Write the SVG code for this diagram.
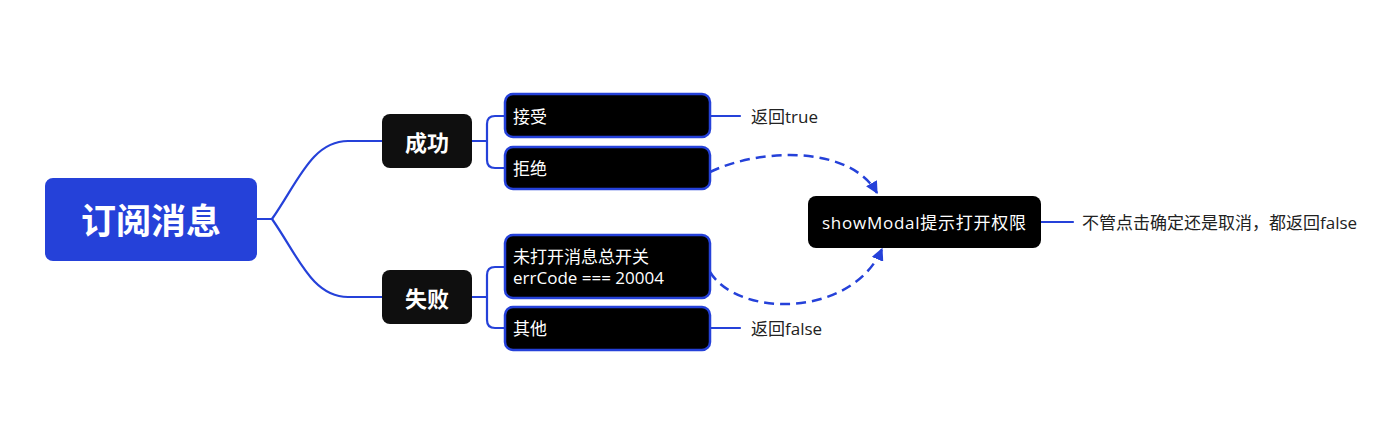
<svg xmlns="http://www.w3.org/2000/svg" width="1381" height="431" viewBox="0 0 1381 431">
<defs>
<style>
.conn{fill:none;stroke:#2541D9;stroke-width:2.2;stroke-linecap:round}
.dash{fill:none;stroke:#2541D9;stroke-width:2.5;stroke-dasharray:10 6}
.t{font-family:"Open Sans","Noto Sans CJK SC",sans-serif;}
.leaf rect{fill:#000;stroke:#2541D9;stroke-width:2.5}
.leaf text{fill:#fff;font-size:17px;dominant-baseline:central}
.mid rect{fill:#0f0f0f}
.mid text{fill:#fff;font-size:22px;font-weight:bold;text-anchor:middle;dominant-baseline:central}
.note{fill:#222;font-size:17px;dominant-baseline:central}
</style>
<marker id="arr" viewBox="0 0 10 10" refX="9" refY="5" markerWidth="5" markerHeight="5" orient="auto" markerUnits="strokeWidth">
<path d="M0,0 L10,5 L0,10 z" fill="#2541D9"/>
</marker>
</defs>
<rect width="1381" height="431" fill="#fff"/>
<g id="connectors">
<path class="conn" d="M257,219 H272 C298,182 312,141 348,141 H382"/>
<path class="conn" d="M272,219 C298,256 312,297 348,297 H382"/>
<path class="conn" d="M472,141 H487 M487,141 V124 Q487,116 495,116 H505 M487,141 V160 Q487,168 495,168 H505"/>
<path class="conn" d="M472,297 H487 M487,297 V275 Q487,267 495,267 H505 M487,297 V320 Q487,328 495,328 H505"/>
<path class="conn" d="M710,116 H740"/>
<path class="conn" d="M710,328 H740"/>
<path class="conn" d="M1041,222 H1073"/>
<path class="dash" d="M710,172 C760,148 850,145 877,193" marker-end="url(#arr)"/>
<path class="dash" d="M710,272 C738,318 852,318 882,249" marker-end="url(#arr)"/>
</g>
<g id="root">
<rect x="45" y="178" width="212" height="83" rx="8" fill="#2541D9"/>
<text class="t" x="151" y="220" fill="#fff" font-size="35" font-weight="bold" text-anchor="middle" dominant-baseline="central">订阅消息</text>
</g>
<g id="success" class="mid">
<rect x="382" y="114" width="90" height="54" rx="8"/>
<text class="t" x="427" y="142">成功</text>
</g>
<g id="fail" class="mid">
<rect x="382" y="270" width="90" height="54" rx="8"/>
<text class="t" x="427" y="298">失败</text>
</g>
<g id="accept" class="leaf">
<rect x="505" y="94" width="205" height="43" rx="8"/>
<text class="t" x="513" y="116">接受</text>
</g>
<g id="reject" class="leaf">
<rect x="505" y="147" width="205" height="42" rx="8"/>
<text class="t" x="513" y="168">拒绝</text>
</g>
<g id="notopen" class="leaf">
<rect x="505" y="235" width="205" height="63" rx="8"/>
<text class="t" x="513" y="256">未打开消息总开关</text>
<text class="t" x="513" y="277">errCode === 20004</text>
</g>
<g id="other" class="leaf">
<rect x="505" y="307" width="205" height="43" rx="8"/>
<text class="t" x="513" y="328">其他</text>
</g>
<g id="modal">
<rect x="808" y="196" width="233" height="52" rx="8" fill="#000"/>
<text class="t" x="924" y="222" fill="#fff" font-size="17" text-anchor="middle" dominant-baseline="central" textLength="204">showModal提示打开权限</text>
</g>
<g id="note-true">
<text class="t note" x="751" y="116">返回true</text>
</g>
<g id="note-false">
<text class="t note" x="751" y="328">返回false</text>
</g>
<g id="note-modal">
<text class="t note" x="1082" y="222" font-size="18">不管点击确定还是取消，都返回false</text>
</g>
</svg>
